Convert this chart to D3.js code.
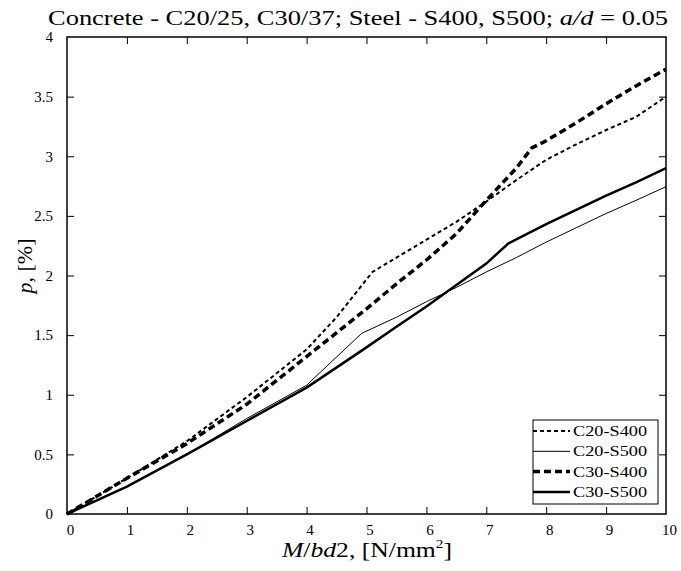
<!DOCTYPE html>
<html>
<head>
<meta charset="utf-8">
<script src="https://cdn.jsdelivr.net/npm/d3@7"></script>
<style>
  body { margin: 0; background: #fff; }
  text { font-family: "Liberation Serif", "Times New Roman", Times, serif; fill: #000; }
</style>
</head>
<body>
<div id="chart"></div>
<script>
// Data
const xTicks = [0, 1, 2, 3, 4, 5, 6, 7, 8, 9, 10];
const yTicks = [0, 0.5, 1, 1.5, 2, 2.5, 3, 3.5, 4];

const mC20S400 = [0, 1, 2, 3, 4, 4.5, 5.1, 5.5, 6, 6.5, 7, 7.5, 8, 8.5, 9, 9.5, 10];
const pC20S400 = [0, 0.3, 0.61, 0.98, 1.38, 1.65, 2.03, 2.15, 2.3, 2.45, 2.62, 2.8, 2.97, 3.1, 3.22, 3.33, 3.5];

const mC20S500 = [0, 1, 2, 3, 4, 4.92, 5.5, 6, 6.5, 7, 7.5, 8, 8.5, 9, 9.5, 10];
const pC20S500 = [0, 0.23, 0.5, 0.8, 1.08, 1.515, 1.65, 1.78, 1.9, 2.03, 2.15, 2.28, 2.4, 2.52, 2.63, 2.745];

const mC30S400 = [0, 1, 2, 3, 4, 5, 5.5, 6, 6.5, 7, 7.5, 7.76, 8, 8.5, 9, 9.5, 10];
const pC30S400 = [0, 0.3, 0.59, 0.92, 1.32, 1.72, 1.93, 2.13, 2.35, 2.63, 2.9, 3.07, 3.13, 3.28, 3.44, 3.59, 3.73];

const mC30S500 = [0, 1, 2, 3, 4, 4.92, 5.5, 6, 6.5, 7, 7.37, 8, 8.5, 9, 9.5, 10];
const pC30S500 = [0, 0.23, 0.5, 0.78, 1.06, 1.37, 1.57, 1.74, 1.92, 2.1, 2.27, 2.43, 2.55, 2.67, 2.78, 2.9];

const series = [
  { name: "C20-S400", m: mC20S400, p: pC20S400, width: 2, dash: "4,3" },
  { name: "C20-S500", m: mC20S500, p: pC20S500, width: 1, dash: null },
  { name: "C30-S400", m: mC30S400, p: pC30S400, width: 3.5, dash: "7,4" },
  { name: "C30-S500", m: mC30S500, p: pC30S500, width: 2.5, dash: null }
];

const width = 681, height = 571;
const margin = { top: 37, right: 15, bottom: 57, left: 67 };
const innerW = width - margin.left - margin.right;
const innerH = height - margin.top - margin.bottom;

const svg = d3.select("#chart").append("svg")
    .attr("width", width)
    .attr("height", height);

const g = svg.append("g")
    .attr("transform", `translate(${margin.left},${margin.top})`);

const x = d3.scaleLinear().domain([0, 10]).range([0, innerW]);
const y = d3.scaleLinear().domain([0, 4]).range([innerH, 0]);

// Axes with inward ticks on all four sides
const tickLen = 7;
const axisBottomG = g.append("g")
    .attr("transform", `translate(0,${innerH})`)
    .call(d3.axisBottom(x).tickValues(xTicks).tickSizeInner(-tickLen).tickSizeOuter(0).tickPadding(10).tickFormat(d3.format("d")));
const axisTopG = g.append("g")
    .call(d3.axisTop(x).tickValues(xTicks).tickSizeInner(-tickLen).tickSizeOuter(0).tickFormat(""));
const axisLeftG = g.append("g")
    .call(d3.axisLeft(y).tickValues(yTicks).tickSizeInner(-tickLen).tickSizeOuter(0).tickPadding(14).tickFormat(d3.format("")));
const axisRightG = g.append("g")
    .attr("transform", `translate(${innerW},0)`)
    .call(d3.axisRight(y).tickValues(yTicks).tickSizeInner(-tickLen).tickSizeOuter(0).tickFormat(""));

[axisBottomG, axisTopG, axisLeftG, axisRightG].forEach(a => {
  a.attr("font-family", null);
  a.select(".domain").remove();
  a.selectAll("line").attr("stroke", "#000").attr("stroke-width", 1);
  a.selectAll("text").style("font-size", "15px");
});
axisBottomG.selectAll("text").attr("dx", 3);

// Remove end ticks that overlap with the frame corners
[axisBottomG, axisTopG].forEach(a => a.selectAll(".tick").filter(d => d === 0 || d === 10).select("line").remove());
[axisLeftG, axisRightG].forEach(a => a.selectAll(".tick").filter(d => d === 0 || d === 4).select("line").remove());

// Frame
g.append("rect")
    .attr("width", innerW)
    .attr("height", innerH)
    .attr("fill", "none")
    .attr("stroke", "#000")
    .attr("stroke-width", 1.5);

// Lines
const line = d3.line()
    .x(d => x(d[0]))
    .y(d => y(d[1]));

series.forEach(s => {
  g.append("path")
      .datum(s.m.map((m, i) => [m, s.p[i]]))
      .attr("d", line)
      .attr("fill", "none")
      .attr("stroke", "#000")
      .attr("stroke-width", s.width)
      .attr("stroke-dasharray", s.dash);
});

// Legend
const legend = svg.append("g")
    .attr("transform", "translate(533,420)");
legend.append("rect")
    .attr("width", 125)
    .attr("height", 84)
    .attr("fill", "#fff")
    .attr("stroke", "#000")
    .attr("stroke-width", 1);
series.forEach((s, i) => {
  const yy = 11 + i * 20.3;
  legend.append("line")
      .attr("x1", 0).attr("x2", 37)
      .attr("y1", yy).attr("y2", yy)
      .attr("stroke", "#000")
      .attr("stroke-width", s.width)
      .attr("stroke-dasharray", s.dash);
  legend.append("text")
      .attr("x", 40)
      .attr("y", yy + 5)
      .attr("textLength", 74)
      .attr("lengthAdjust", "spacingAndGlyphs")
      .style("font-size", "15px")
      .text(s.name);
});

// Title
const title = svg.append("text")
    .attr("x", 48)
    .attr("y", 25)
    .attr("textLength", 620)
    .attr("lengthAdjust", "spacingAndGlyphs")
    .style("font-size", "22px");
title.append("tspan").text("Concrete - C20/25, C30/37; Steel - S400, S500; ");
title.append("tspan").style("font-style", "italic").text("a/d");
title.append("tspan").text(" = 0.05");

// X axis label
const xLabel = svg.append("text")
    .attr("x", 282)
    .attr("y", 557)
    .attr("textLength", 170)
    .attr("lengthAdjust", "spacingAndGlyphs")
    .style("font-size", "20px");
xLabel.append("tspan").style("font-style", "italic").text("M");
xLabel.append("tspan").text("/");
xLabel.append("tspan").style("font-style", "italic").text("bd");
xLabel.append("tspan").text("2, [N/mm");
xLabel.append("tspan").attr("dy", -9).style("font-size", "12px").text("2");
xLabel.append("tspan").attr("dy", 9).text("]");

// Y axis label
const yLabel = svg.append("text")
    .attr("transform", "translate(32,266) rotate(-90)")
    .attr("text-anchor", "middle")
    .style("font-size", "22px");
yLabel.append("tspan").style("font-style", "italic").text("p");
yLabel.append("tspan").text(", [%]");
</script>
</body>
</html>
